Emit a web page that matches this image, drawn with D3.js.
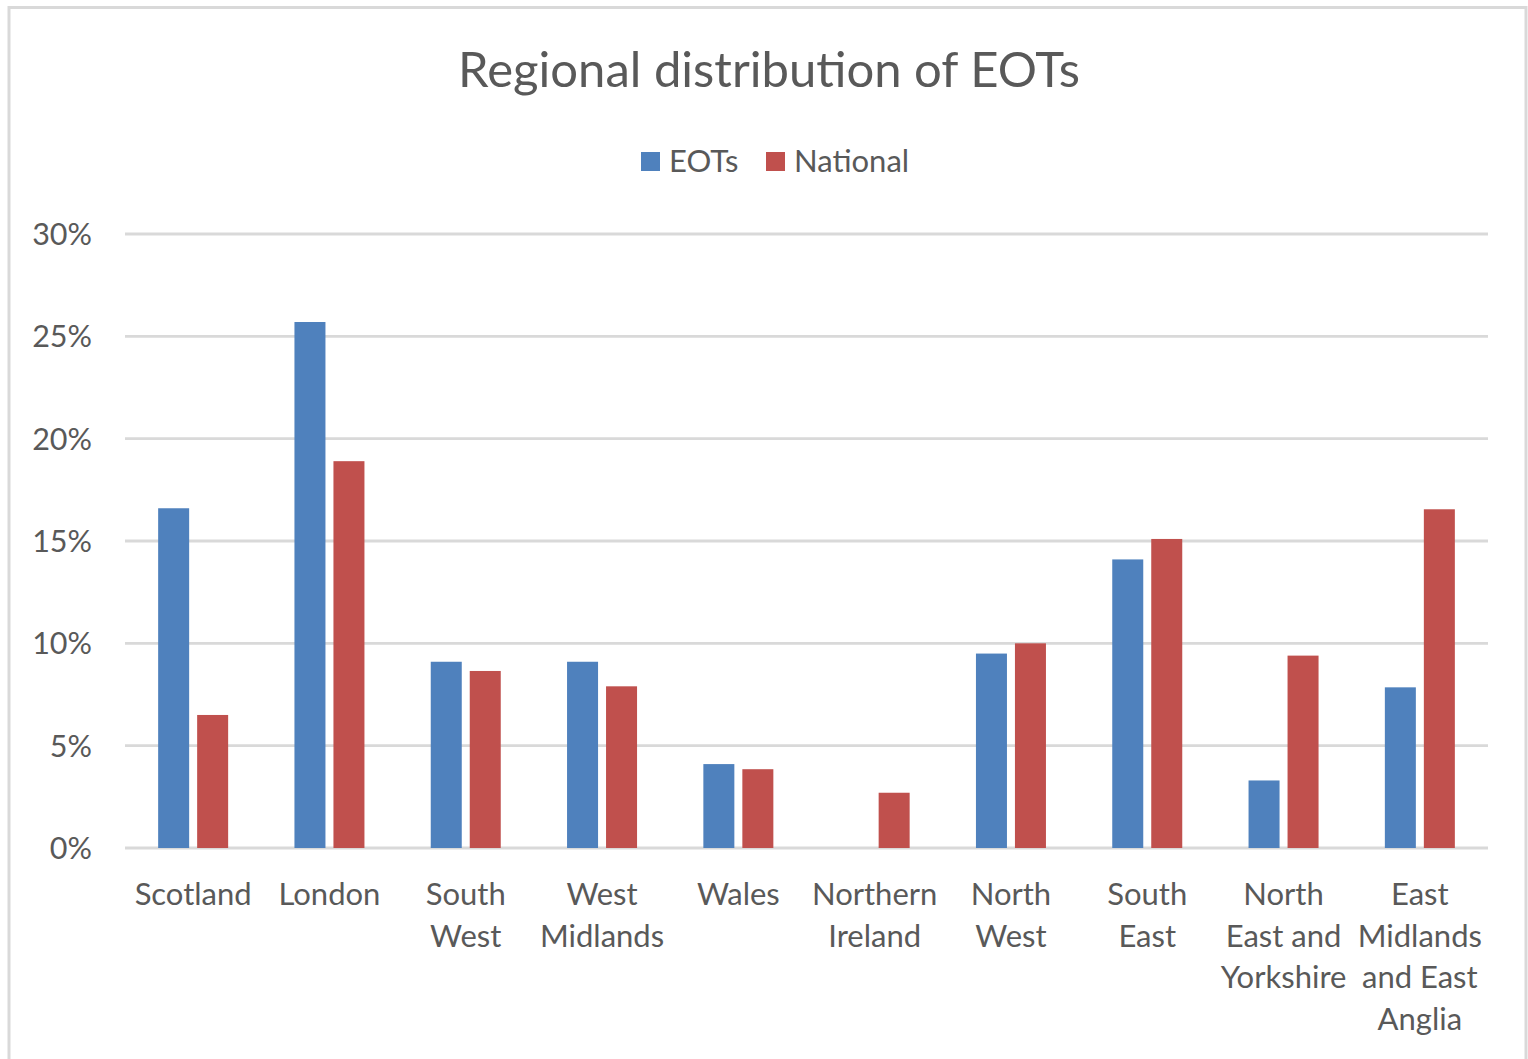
<!DOCTYPE html>
<html>
<head>
<meta charset="utf-8">
<script src="https://cdn.jsdelivr.net/npm/d3@7"></script>
<style>
  html, body { margin: 0; padding: 0; background: #fff; }
  svg { display: block; }
  text { font-family: Lato, "Open Sans", sans-serif; fill: #595959; }
</style>
</head>
<body>
<svg id="chart"></svg>
<script>
// ---- data ----
const regions = [
  "Scotland", "London", "South West", "West Midlands", "Wales",
  "Northern Ireland", "North West", "South East",
  "North East and Yorkshire", "East Midlands and East Anglia"
];
// wrapped tick labels as they appear under the axis
const regionLabels = [
  ["Scotland"], ["London"], ["South", "West"], ["West", "Midlands"], ["Wales"],
  ["Northern", "Ireland"], ["North", "West"], ["South", "East"],
  ["North", "East and", "Yorkshire"], ["East", "Midlands", "and East", "Anglia"]
];
const seriesNames = ["EOTs", "National"];
const eotValues = [16.6, 25.7, 9.1, 9.1, 4.1, 0, 9.5, 14.1, 3.3, 7.85];
const nationalValues = [6.5, 18.9, 8.65, 7.9, 3.85, 2.7, 10.0, 15.1, 9.4, 16.55];
const yTicks = [0, 5, 10, 15, 20, 25, 30];
const colors = { EOTs: "#4F81BD", National: "#C0504D" };

// ---- setup ----
const width = 1528, height = 1059;
const margin = { top: 234, right: 40, bottom: 211, left: 125 };

const svg = d3.select("#chart").attr("width", width).attr("height", height);

svg.append("rect").attr("width", width).attr("height", height).attr("fill", "#fff");
// chart frame (bottom edge falls outside the picture)
svg.append("rect")
  .attr("x", 9).attr("y", 7.5)
  .attr("width", 1517).attr("height", 1100)
  .attr("fill", "none").attr("stroke", "#D9D9D9").attr("stroke-width", 3);

const x0 = d3.scaleBand().domain(regions).range([margin.left, width - margin.right]).padding(0);
const x1 = d3.scaleBand().domain(seriesNames).range([0, 70]).paddingInner(0.205);
const y = d3.scaleLinear().domain([0, 30]).range([height - margin.bottom, margin.top]);

// gridlines
svg.append("g")
  .selectAll("line")
  .data(yTicks)
  .join("line")
  .attr("x1", margin.left).attr("x2", width - margin.right)
  .attr("y1", d => y(d)).attr("y2", d => y(d))
  .attr("stroke", "#D9D9D9").attr("stroke-width", 2.8);

// y tick labels
svg.append("g")
  .selectAll("text")
  .data(yTicks)
  .join("text")
  .attr("x", 92).attr("y", d => y(d) + 11)
  .attr("text-anchor", "end")
  .attr("font-size", 30.5)
  .text(d => d + "%");

// bars
const rows = regions.map((r, i) => ({ region: r, EOTs: eotValues[i], National: nationalValues[i] }));
const groupOffset = (x0.bandwidth() - 70) / 2;

const groups = svg.append("g")
  .selectAll("g")
  .data(rows)
  .join("g")
  .attr("transform", d => `translate(${x0(d.region) + groupOffset},0)`);

groups.selectAll("rect")
  .data(d => seriesNames.map(s => ({ key: s, value: d[s] })))
  .join("rect")
  .attr("x", d => x1(d.key))
  .attr("width", x1.bandwidth())
  .attr("y", d => y(d.value))
  .attr("height", d => y(0) - y(d.value))
  .attr("fill", d => colors[d.key]);

// category labels
const catLabels = svg.append("g")
  .selectAll("text")
  .data(regions)
  .join("text")
  .attr("text-anchor", "middle")
  .attr("font-size", 31)
  .attr("x", d => x0(d) + x0.bandwidth() / 2)
  .attr("y", 905);

catLabels.each(function (d, i) {
  const t = d3.select(this);
  regionLabels[i].forEach((line, j) => {
    t.append("tspan")
      .attr("x", x0(d) + x0.bandwidth() / 2)
      .attr("y", 905 + j * 41.7)
      .text(line);
  });
});

// title
svg.append("text")
  .attr("x", 769).attr("y", 87)
  .attr("text-anchor", "middle")
  .attr("font-size", 49)
  .text("Regional distribution of EOTs");

// legend
const legend = svg.append("g").attr("transform", "translate(641,152)");
const legendX = [0, 125];
seriesNames.forEach((s, i) => {
  const g = legend.append("g").attr("transform", `translate(${legendX[i]},0)`);
  g.append("rect").attr("width", 19).attr("height", 19).attr("fill", colors[s]);
  g.append("text").attr("x", 28).attr("y", 20).attr("font-size", 31).text(s);
});
</script>
</body>
</html>
